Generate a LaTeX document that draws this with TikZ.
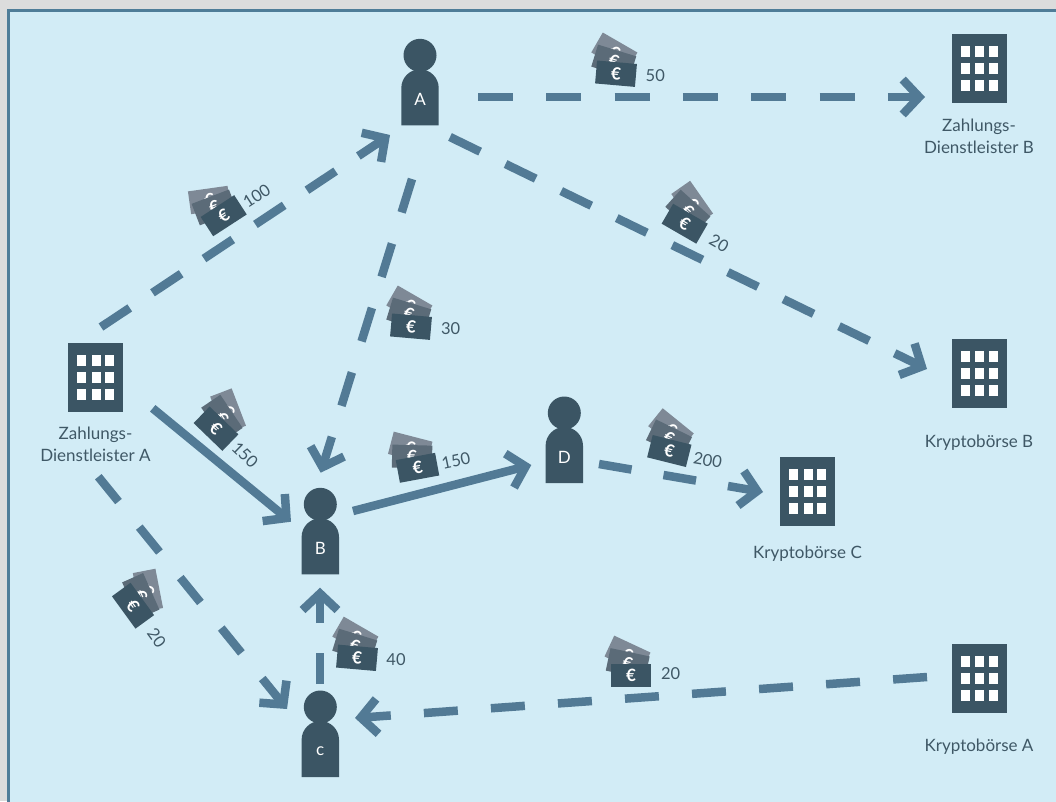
\documentclass[tikz,border=0pt]{standalone}
\usepackage{fontspec}
\setmainfont{Lato}
\usetikzlibrary{arrows.meta}
\definecolor{pagegrey}{HTML}{DCDCDC}
\definecolor{panelfill}{HTML}{D2ECF6}
\definecolor{panelline}{HTML}{4F7D98}
\definecolor{flowblue}{HTML}{527A95}
\definecolor{darkslate}{HTML}{3B5564}
\definecolor{notemid}{HTML}{5B6B78}
\definecolor{noteback}{HTML}{7E8996}
\definecolor{labeltext}{HTML}{3F5866}
\tikzset{
  flow/.style={draw=flowblue,line width=8.5pt,-{Straight Barb[length=16.5pt,width=35pt]}},
  building/.style={fill=darkslate,minimum width=55pt,minimum height=69pt,inner sep=0pt},
  window/.style={fill=white,minimum width=9pt,minimum height=11pt,inner sep=0pt},
  head/.style={circle,fill=darkslate,minimum size=33pt,inner sep=0pt},
  letter/.style={text=white,font=\fontsize{17}{17}\selectfont,inner sep=0pt},
  caption/.style={text=labeltext,align=center,font=\fontsize{17}{22}\selectfont,inner sep=0pt},
  amount/.style={text=labeltext,font=\fontsize{16.5}{16.5}\selectfont,inner sep=0pt},
  note/.style={minimum width=40pt,minimum height=23pt,inner sep=0pt,text=white,transform shape,font=\fontsize{17}{17}\selectfont\bfseries},
}
\newcommand\buildingat[4]{%
  \node[building] (#1) at (#2,#3) {};
  \foreach \wx in {-14,0.5,14} \foreach \wy in {-17,0,17}
    \node[window] at (#2+\wx,#3+\wy) {};
  \node[caption] (#1-label) at (#2,#3+#4) {\captiontext};
}
\newcommand\personat[4]{%
  \node[head] (#1-head) at (#2,#3-70) {};
  \fill[darkslate] (#2-18.7,#3) -- (#2-18.7,#3-37.3) arc[start angle=180,end angle=0,radius=18.7pt] -- (#2+18.7,#3) -- cycle;
  \node[letter] (#1) at (#2,#3-26) {#4};
}
\newcommand\moneyat[4]{%
  \begin{scope}[shift={(#2,#3)},rotate=#4]
    \node[note,fill=noteback,rotate=-25] (#1-back) at (-3.5,-21) {€};
    \node[note,fill=notemid,rotate=-12] (#1-mid) at (-3.3,-12) {€};
    \node[note,fill=darkslate] (#1-front) at (0,0) {€};
  \end{scope}
}
\begin{document}
\begin{tikzpicture}[x=1pt,y=-1pt]
\clip (0,0) rectangle (1056,801);
\fill[pagegrey] (0,0) rectangle (1056,801);
\draw[panelline,fill=panelfill,line width=3pt] (8.5,10.5) rectangle (1070,820);

% buildings
\def\captiontext{Zahlungs-\\Dienstleister A}\buildingat{bankA}{95.5}{377.5}{67}
\def\captiontext{Zahlungs-\\Dienstleister B}\buildingat{bankB}{979}{68.5}{68}
\def\captiontext{Kryptobörse B}\buildingat{exB}{979}{373.5}{69}
\def\captiontext{Kryptobörse C}\buildingat{exC}{807.5}{491.5}{62}
\def\captiontext{Kryptobörse A}\buildingat{exA}{979}{678.5}{68}

% persons
\personat{A}{420}{125.3}{A}
\personat{B}{320.3}{574.3}{B}
\personat{D}{564.3}{483}{D}
\personat{C}{320.3}{777}{c}

% connector ends
\coordinate (e1s) at (101,327);   \coordinate (e1t) at (390,135);
\coordinate (e2s) at (478,97);    \coordinate (e2t) at (925,97);
\coordinate (e3s) at (450,137);   \coordinate (e3t) at (927,369);
\coordinate (e4s) at (412,179);   \coordinate (e4t) at (320.7,472.7);
\coordinate (e5s) at (152.7,408.3); \coordinate (e5t) at (291,521.7);
\coordinate (e6s) at (98.3,476.7); \coordinate (e6t) at (287,709);
\coordinate (e7s) at (353,511);   \coordinate (e7t) at (531.3,465);
\coordinate (e8s) at (599,464);   \coordinate (e8t) at (763,492);
\coordinate (e9s) at (320,684);   \coordinate (e9t) at (320,587.7);
\coordinate (e10s) at (927,677);  \coordinate (e10t) at (355,718);

\draw[flow,dash pattern=on 34.5pt off 27.3pt on 34.5pt off 27.3pt on 34.5pt off 27.3pt on 34.5pt off 27.3pt on 34.5pt off 27.3pt on 300pt off 1pt] (e1s) -- (e1t);
\draw[flow,dash pattern=on 35pt off 33.3pt on 35pt off 33.3pt on 35pt off 33.3pt on 35pt off 33.3pt on 35pt off 33.3pt on 35pt off 33.3pt on 300pt off 1pt] (e2s) -- (e2t);
\draw[flow,dash pattern=on 33.5pt off 28.3pt on 33.5pt off 28.3pt on 33.5pt off 28.3pt on 33.5pt off 28.3pt on 33.5pt off 28.3pt on 33.5pt off 28.3pt on 33.5pt off 28.3pt on 33.5pt off 28.3pt on 300pt off 1pt] (e3s) -- (e3t);
\draw[flow,dash pattern=on 35pt off 32.5pt on 35pt off 32.5pt on 35pt off 32.5pt on 35pt off 32.5pt on 300pt off 1pt] (e4s) -- (e4t);
\draw[flow] (e5s) -- (e5t);
\draw[flow,dash pattern=on 32pt off 33pt on 32pt off 33pt on 32pt off 33pt on 32pt off 33pt on 300pt off 1pt] (e6s) -- (e6t);
\draw[flow] (e7s) -- (e7t);
\draw[flow,dash pattern=on 33pt off 32.4pt on 33pt off 32.4pt on 300pt off 1pt] (e8s) -- (e8t);
\draw[flow,dash pattern=on 31pt off 30pt on 300pt off 1pt] (e9s) -- (e9t);
\draw[flow,dash pattern=on 34pt off 33.2pt on 34pt off 33.2pt on 34pt off 33.2pt on 34pt off 33.2pt on 34pt off 33.2pt on 34pt off 33.2pt on 34pt off 33.2pt on 34pt off 33.2pt on 300pt off 1pt] (e10s) -- (e10t);

% money
\moneyat{m1}{223.7}{215.7}{33}
\moneyat{m2}{616}{73.7}{-5}
\moneyat{m3}{684.7}{223.7}{-30}
\moneyat{m4}{411}{326.7}{-5}
\moneyat{m5}{216}{428.7}{-44}
\moneyat{m6}{417.5}{467.8}{10.5}
\moneyat{m7}{669.3}{451}{-14}
\moneyat{m8}{133}{605.7}{-54}
\moneyat{m9}{357}{657.8}{-5}
\moneyat{m10}{631}{675.5}{0}

\node[amount,rotate=33] (a1) at (256.7,196) {100};
\node[amount] (a2) at (655.3,76) {50};
\node[amount,rotate=-30] (a3) at (719,243) {20};
\node[amount] (a4) at (450.7,328.5) {30};
\node[amount,rotate=-44] (a5) at (245,454.8) {150};
\node[amount,rotate=12] (a6) at (456,460.5) {150};
\node[amount,rotate=-10] (a7) at (707.7,460) {200};
\node[amount,rotate=-54] (a8) at (156.7,638) {20};
\node[amount] (a9) at (396,660) {40};
\node[amount] (a10) at (670.7,674) {20};
\end{tikzpicture}
\end{document}
